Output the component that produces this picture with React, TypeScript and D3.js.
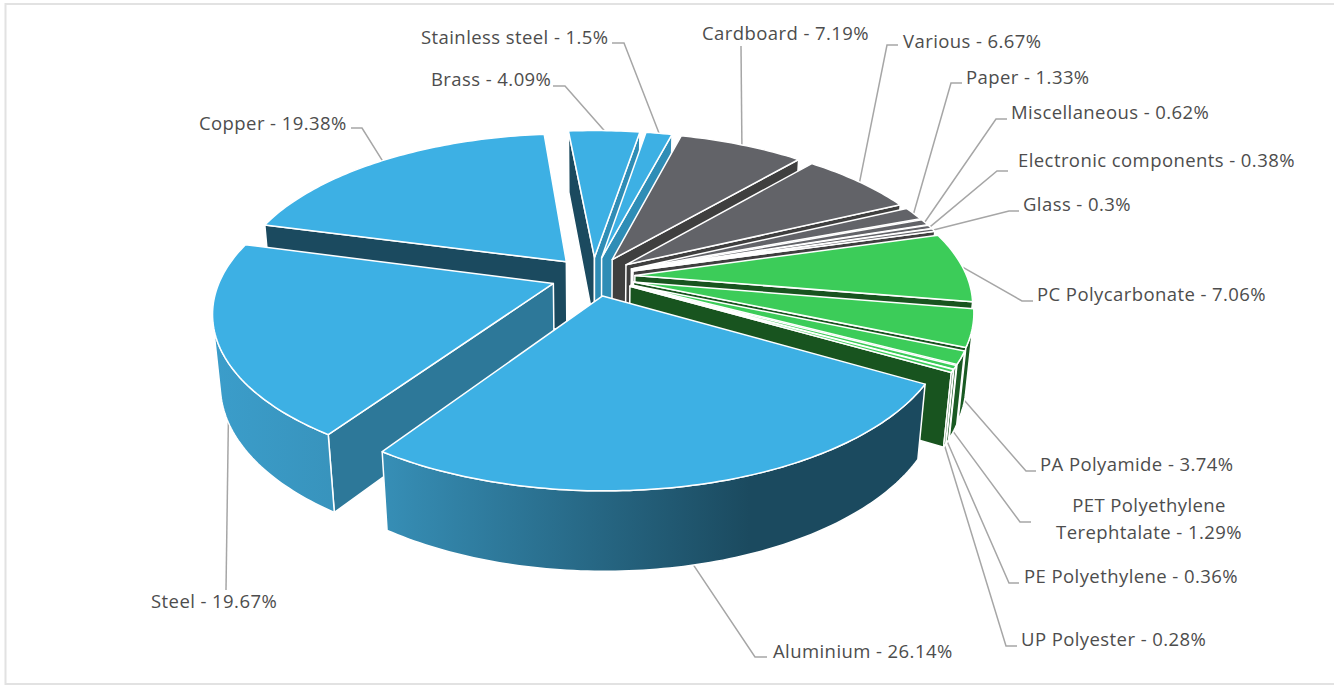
import React from "react";
import * as d3 from "d3";

const categories = ["Aluminium","Steel","Copper","Brass","Stainless steel","Cardboard","Various","Paper","Miscellaneous","Electronic components","Glass","PC Polycarbonate","PA Polyamide","PET Polyethylene Terephtalate","PE Polyethylene","UP Polyester"];
const shares = [26.14,19.67,19.38,4.09,1.5,7.19,6.67,1.33,0.62,0.38,0.3,7.06,3.74,1.29,0.36,0.28];
const groups = ["blue","blue","blue","blue","blue","grey","grey","grey","grey","grey","grey","green","green","green","green","green"];
const valueLabels = ["Aluminium - 26.14%","Steel - 19.67%","Copper - 19.38%","Brass - 4.09%","Stainless steel - 1.5%","Cardboard - 7.19%","Various - 6.67%","Paper - 1.33%","Miscellaneous - 0.62%","Electronic components - 0.38%","Glass - 0.3%","PC Polycarbonate - 7.06%","PA Polyamide - 3.74%","PET Polyethylene|Terephtalate - 1.29%","PE Polyethylene - 0.36%","UP Polyester - 0.28%"];

// label layout: text left x, baseline y, leader elbow points, rim level of the anchor (0 top, 1 bottom)
const labelLayout: { x: number; y: number; elbow: number[][]; z: number; mid?: boolean; shift?: number }[] = [
  { x: 773, y: 658, elbow: [[767, 657], [755, 657]], z: 1 },
  { x: 151, y: 608, elbow: [[226, 590]], z: 1, shift: -2.5 },
  { x: 199, y: 130, elbow: [[351, 128], [362, 128]], z: 0 },
  { x: 431, y: 86, elbow: [[553, 86], [565, 86]], z: 0 },
  { x: 421, y: 44, elbow: [[612, 43], [624, 43]], z: 0 },
  { x: 702, y: 40, elbow: [[741, 46]], z: 0 },
  { x: 903, y: 48, elbow: [[898, 45], [887, 45]], z: 0 },
  { x: 966, y: 84, elbow: [[962, 83], [951, 83]], z: 0 },
  { x: 1011, y: 119, elbow: [[1007, 119], [996, 119]], z: 0 },
  { x: 1018, y: 167, elbow: [[1008, 171], [997, 171]], z: 0 },
  { x: 1023, y: 211, elbow: [[1019, 211], [1009, 211]], z: 0 },
  { x: 1037, y: 301, elbow: [[1033, 301], [1022, 301]], z: 0 },
  { x: 1040, y: 471, elbow: [[1036, 471], [1026, 471]], z: 1 },
  { x: 1149, y: 512, elbow: [[1031, 522], [1020, 522]], z: 1, mid: true },
  { x: 1024, y: 583, elbow: [[1019, 583], [1009, 583]], z: 1 },
  { x: 1021, y: 646, elbow: [[1017, 646], [1006, 646]], z: 1 },
];

const W = 1334, H = 685;
const CX = 593, CY = 276.5, R = 332, K = 0.465, T = 0.17, U = 0.02, DEPTH = 71, EXPLODE = 42;
const toRad = Math.PI / 180;

const TOP: Record<string, string> = { blue: "#3db0e4", grey: "#626368", green: "#3ccc59" };
const WALL: Record<string, string> = { blue: "url(#blueWall)", grey: "#3f3f3f", green: "#1a5a23" };
const startFace: Record<string, string> = { Steel: "#2d7899", Copper: "#1b4a5f", Brass: "#1b4a5f", "Stainless steel": "#2f8db6" };
const endFace = "#2f8db6";
const FACE: Record<string, string> = { grey: "#3f3f3f", green: "#18541f" };

function project(x: number, y: number, z: number): [number, number] {
  const p = 1 / (1 + (T * y) / R + U * z);
  return [CX + x * p, CY - K * y * p + DEPTH * z * p];
}

const pieGen = d3.pie<number>().sort(null).value((d) => d).startAngle(120 * toRad).endAngle(480 * toRad);
const arcs = pieGen(shares);

const poly = d3.line<[number, number]>().curve(d3.curveLinearClosed);
const open = d3.line<number[]>().x((d) => d[0]).y((d) => d[1]);

function area(pts: [number, number][]) {
  return d3.polygonArea(pts);
}

const slices = arcs.map((a, i) => {
  const mid = (a.startAngle + a.endAngle) / 2;
  const ox = Math.sin(mid) * EXPLODE, oy = Math.cos(mid) * EXPLODE;
  const rim = (th: number, z: number) => project(ox + R * Math.sin(th), oy + R * Math.cos(th), z);
  const apex = (z: number) => project(ox, oy, z);
  const n = Math.max(2, Math.ceil((a.endAngle - a.startAngle) / toRad));
  const ths = d3.range(n + 1).map((j) => a.startAngle + ((a.endAngle - a.startAngle) * j) / n);
  const top: [number, number][] = [apex(0), ...ths.map((t) => rim(t, 0))];
  const faceA: [number, number][] = [apex(0), rim(a.startAngle, 0), rim(a.startAngle, 1), apex(1)];
  const faceB: [number, number][] = [apex(0), apex(1), rim(a.endAngle, 1), rim(a.endAngle, 0)];
  const visible = ths.slice(0, -1).map((t, j) => [t, ths[j + 1]]).filter(([t0, t1]) => area([rim(t0, 0), rim(t1, 0), rim(t1, 1), rim(t0, 1)]) > 0);
  const wall: [number, number][] = visible.length
    ? [rim(visible[0][0], 0), ...visible.map((s) => rim(s[1], 0)), ...visible.slice().reverse().map((s) => rim(s[1], 1)), rim(visible[0][0], 1)]
    : [];
  const group = groups[i];
  const name = categories[i];
  return {
    name, group, mid, top, wall, faceA, faceB,
    showA: area(faceA) > 0, showB: area(faceB) > 0,
    colorA: FACE[group] ?? startFace[name] ?? endFace,
    colorB: FACE[group] ?? endFace,
    anchor: rim(mid + (labelLayout[i].shift ?? 0) * toRad, labelLayout[i].z),
    depth: Math.cos(mid),
  };
});
const drawOrder = d3.sort(slices, (a, b) => d3.descending(a.depth, b.depth));

const FONT = "'Open Sans', Lato, sans-serif";

export default function App() {
  return (
    <svg width={W} height={H} viewBox={`0 0 ${W} ${H}`} style={{ position: "fixed", left: 0, top: 0, background: "#fff" }}>
      <defs>
        <linearGradient id="blueWall" gradientUnits="userSpaceOnUse" x1="215" y1="0" x2="750" y2="0">
          <stop offset="0" stopColor="#3b9dca" />
          <stop offset="0.3" stopColor="#3790b8" />
          <stop offset="1" stopColor="#1b4a5f" />
        </linearGradient>
      </defs>
      <path d={`M${W},4 H5.5 V684 H${W}`} fill="none" stroke="#e2e2e2" strokeWidth={2} />
      {slices.map((s, i) => (
        <path key={s.name} d={open([...labelLayout[i].elbow, s.anchor]) ?? ""} fill="none" stroke="#a6a6a6" strokeWidth={1.5} />
      ))}
      {drawOrder.map((s) => (
        <g key={s.name} stroke="#fff" strokeWidth={1.5} strokeLinejoin="round">
          {s.showA && <path d={poly(s.faceA) ?? ""} fill={s.colorA} />}
          {s.showB && <path d={poly(s.faceB) ?? ""} fill={s.colorB} />}
          {s.wall.length > 0 && <path d={poly(s.wall) ?? ""} fill={WALL[s.group]} />}
          <path d={poly(s.top) ?? ""} fill={TOP[s.group]} />
        </g>
      ))}
      <g fontFamily={FONT} fontSize={18.5} letterSpacing={0.42} fill="#4d4d4d">
        {valueLabels.map((t, i) => {
          const l = labelLayout[i];
          const parts = t.split("|");
          return (
            <text key={t} x={l.x} y={l.y} textAnchor={l.mid ? "middle" : "start"}>
              {parts.map((p, j) => (
                <tspan key={p} x={l.x} dy={j === 0 ? 0 : 27}>{p}</tspan>
              ))}
            </text>
          );
        })}
      </g>
    </svg>
  );
}
